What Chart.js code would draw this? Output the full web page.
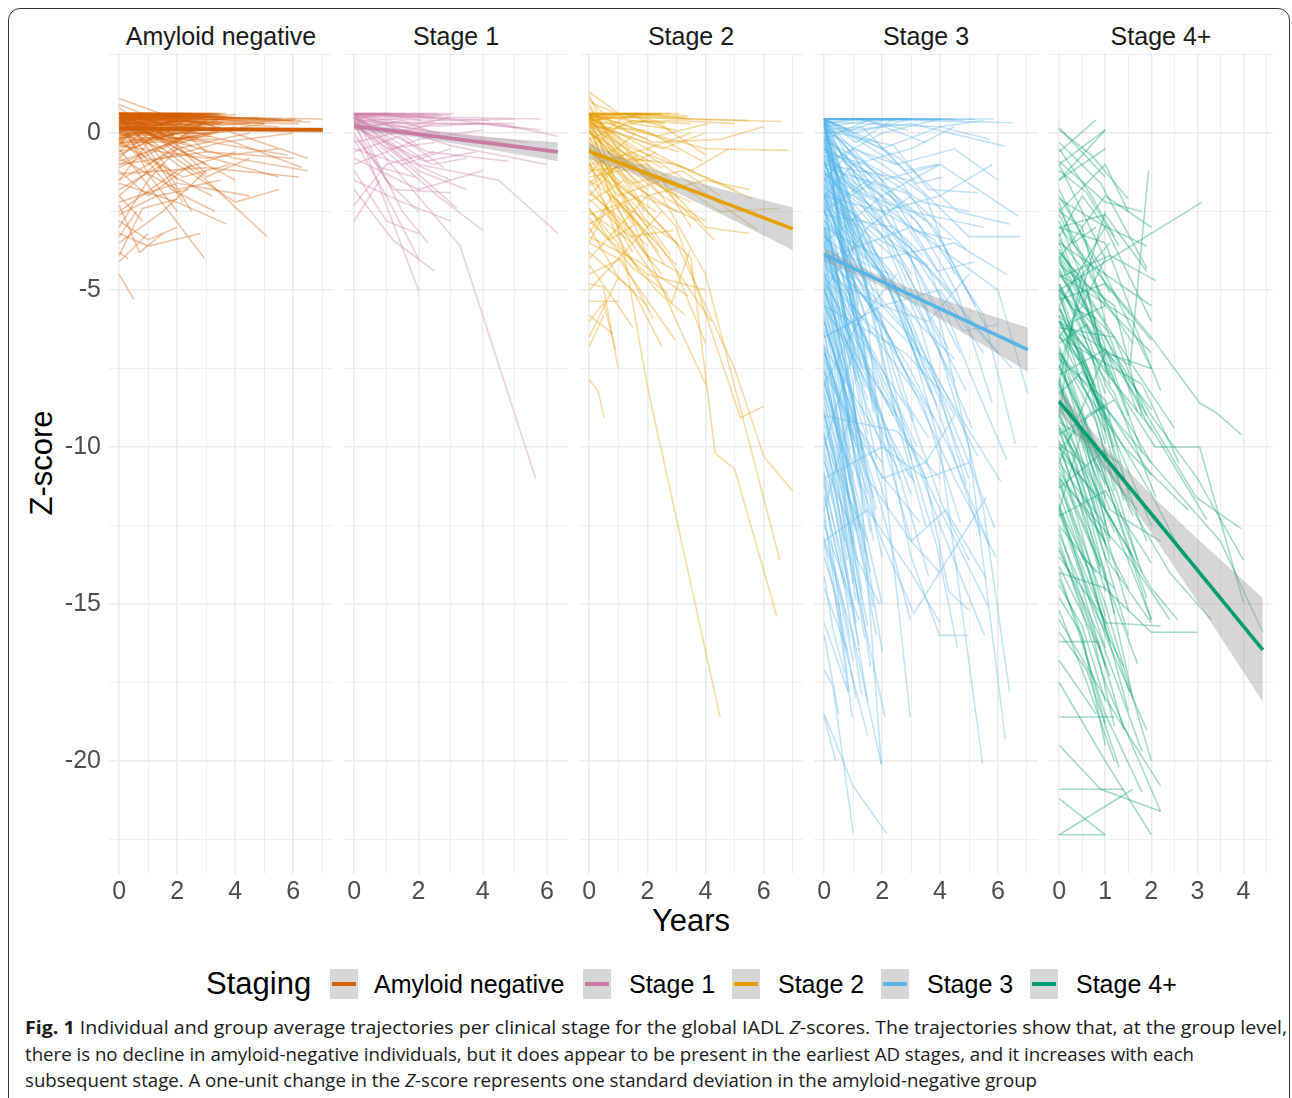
<!DOCTYPE html>
<html><head><meta charset="utf-8">
<script src="https://cdn.jsdelivr.net/npm/chart.js@4.4.1/dist/chart.umd.min.js"></script>
<style>
html,body{margin:0;padding:0;background:#fff;}
body{width:1292px;height:1098px;position:relative;overflow:hidden;font-family:'Liberation Sans',Arial,sans-serif;}
.frame{position:absolute;left:8px;top:8px;width:1282px;height:1110px;border:1.5px solid #333;border-radius:12px;box-sizing:border-box;}
.ptitle{position:absolute;top:20px;width:224px;text-align:center;font-size:25px;color:#1a1a1a;line-height:32px;white-space:nowrap;}
.xtitle{position:absolute;left:591px;top:903px;width:200px;text-align:center;font-size:31px;line-height:36px;color:#000;}
.ytitle{position:absolute;left:-58px;top:445px;width:200px;text-align:center;font-size:31px;line-height:36px;color:#000;transform:rotate(-90deg);transform-origin:50% 50%;}
.lgtitle{position:absolute;left:206px;top:966px;font-size:31px;line-height:36px;color:#000;white-space:nowrap;}
.lgkey{position:absolute;top:969px;width:28px;height:30px;background:#d6d6d6;}
.lgkey span{position:absolute;left:2px;top:13px;width:24px;height:4px;}
.lglab{position:absolute;top:969px;font-size:25px;line-height:30px;color:#000;white-space:nowrap;}
.cap{position:absolute;left:25px;font-family:'Open Sans',sans-serif;font-size:18px;line-height:24px;color:#1a1a1a;white-space:nowrap;transform-origin:0 50%;}
canvas{position:absolute;}
</style></head><body>
<div class="frame"></div>
<div id="titles"></div>
<div class="xtitle">Years</div>
<div class="ytitle">Z-score</div>
<div class="lgtitle">Staging</div>
<div id="legend"></div>
<div class="cap" id="cap1" style="top:1015px"><b>Fig. 1</b> Individual and group average trajectories per clinical stage for the global IADL <i>Z</i>-scores. The trajectories show that, at the group level,</div>
<div class="cap" id="cap2" style="top:1042px">there is no decline in amyloid-negative individuals, but it does appear to be present in the earliest AD stages, and it increases with each</div>
<div class="cap" id="cap3" style="top:1068px">subsequent stage. A one-unit change in the <i>Z</i>-score represents one standard deviation in the amyloid-negative group</div>
<script>
// ---------------- DATA ----------------
const panelNames = ['Amyloid negative', 'Stage 1', 'Stage 2', 'Stage 3', 'Stage 4+'];
const stageColors = ['#D55E00', '#CC79A7', '#E69F00', '#56B4E9', '#009E73'];
const xMin = [-0.351, -0.317, -0.35, -0.3515, -0.221];
const xMax = [7.371, 6.657, 7.35, 7.3815, 4.641];
const xGridValues = [
  [0,1,2,3,4,5,6,7], [0,1,2,3,4,5,6], [0,1,2,3,4,5,6,7], [0,1,2,3,4,5,6,7],
  [0,0.5,1,1.5,2,2.5,3,3.5,4,4.5]
];
const xTickLabels = [[0,2,4,6],[0,2,4,6],[0,2,4,6],[0,2,4,6],[0,1,2,3,4]];
const yGridValues = [2.5,0,-2.5,-5,-7.5,-10,-12.5,-15,-17.5,-20,-22.5];
const yTickLabels = [0,-5,-10,-15,-20];
const yMin = -23.6, yMax = 2.55;

// group mean lines (start/end)
const meanX = [[0,7.02],[0,6.34],[0,7.0],[0,7.03],[0,4.42]];
const meanZ = [[0.14,0.1],[0.22,-0.6],[-0.58,-3.05],[-3.87,-6.9],[-8.55,-16.46]];
// confidence ribbons
const ribbonX = [[0,3.5,7.02],[0,2,4,6.34],[0,1.5,3,5,7.0],[0,1.5,3,5,7.03],[0,1,2,3,4.42]];
const ribbonUpper = [[0.22,0.19,0.18],[0.34,0.06,-0.12,-0.3],[-0.33,-0.93,-1.39,-1.89,-2.37],[-3.65,-4.37,-4.96,-5.58,-6.2],[-8.2,-9.99,-11.53,-12.92,-14.81]];
const ribbonLower = [[0.06,0.05,0.02],[0.10,-0.14,-0.48,-0.9],[-0.83,-1.29,-1.89,-2.79,-3.73],[-4.09,-4.67,-5.36,-6.48,-7.6],[-8.9,-10.69,-12.73,-14.92,-18.11]];

// individual trajectories: [year, z, year, z, ...]
const trajAmyloidNeg = [
[0,0.62,3.7,0.62],[0,0.62,3.2,0.62],[0,0.62,2.5,0.62],[0,0.6,2,0.6],[0,0.62,1.2,0.62],
[0,0.55,3.5,0.55],[0,0.5,2.8,0.45],[0,0.6,3,0.5,6,0.4],[0,0.62,2,0.55,5.6,0.45],[0,0.4,3,0.5,7.0,0.45],
[0,0.3,2,0.35,6.2,0.3],[0,0.45,4.5,0.3],[0,0.2,3.5,0.3,5.5,0.2],[0,0.1,2.5,0.45],[0,-0.1,2,0.4,4,0.6],
[0,0.62,1,0.4,3,0.6],[0,1.1,1.5,0.6],[0,0.9,1,0.55,2,0.6],[0,0.8,0.6,0.4],[0,0,3,0],
[0,-0.3,3.5,0.2],[0,0.62,2,-0.2,4,0.1],[0,0.6,2,-0.5,4,-1.5],[0,0.5,3,-1],[0,0.3,1.5,-1.2,3.2,-2],
[0,0.6,1,-0.5,2.2,-2.2],[0,0.4,2.8,-0.7,5.5,-1.4],[0,0.2,4,-0.8,6.5,-1.2],[0,-0.5,1.8,-2.6,2.95,-4],[0,0.5,3,-1.5,5.1,-3.3],
[0,-1,2,-0.2,4,0.2],[0,-1.5,2,-0.5,4.5,0],[0,-2,1.5,-0.8,3.5,-0.3,6,0],[0,-2.5,2,-1.2,4,-0.6],[0,-1.2,1,-2,2.5,-1],
[0,-3,1,-1.5,2,-0.5],[0,-3.5,1.5,-2.5,3,-1.2],[0,-4.5,0.5,-5.3],[0,-3.8,0.3,-4],[0,-2.8,1,-3.4,2,-3],
[0,-0.8,2,-1.8,3.5,-1.5],[0,-1.8,1.5,-1,2.5,-2.5],[0,-0.4,3,-0.8,5.5,-0.5],[0,-0.2,1,-1,2,-0.4,3,-1.3],[0,-1,3,-0.6,6,-0.8],
[0,0.4,2,-1,4,-2.2,5.5,-1.8],[0,-2.2,2,-1.6,4.5,-2],[0,-1.5,1,-0.3,2,-1.5],[0,-3.2,1,-3.6,2.8,-3.2],[0,-4.1,1,-3.2],
[0,-3.9,0.8,-2.4,2,-2.1],[0,0.5,1,-1.3,2,-2.5],[0,0.6,1.5,-0.3,3,-1.4,4.5,-0.8],[0,0.62,1.2,0.1,2.5,-0.4],[0,0.3,1.5,-0.1,3,-0.3],
[0,0,1.5,-0.5,3,0.2],[0,-0.6,1,0.2,2,-0.3],[0,-0.9,2.5,-0.1,5,0.3],[0,0.62,3,0.3,6.5,-0.8],[0,0.1,2,0.6,4,0.5],
[0,-0.2,1.5,0.3,2.5,0.62],[0,-1.6,2,-2.2,3.7,-2.9],[0,-2,0.8,-2.8],[0,-1.3,3,-1.1,6.2,-1.4],[0,-0.7,2,0.2,3,-0.6],
[0,0.6,1.8,0.6],[0,0.58,3.3,0.58],[0,0.5,1.5,0.5],[0,0.45,2.2,0.55],[0,0.35,2.6,0.25],
[0,0.25,1.2,0.5,2.6,0.2],[0,0.15,1.7,0.62],[0,0.62,0.8,0.2,2,0.62],[0,0.62,1.5,0],[0,0.5,0.9,-0.3,1.8,0.3],
[0,0.62,2.4,0.62],[0,0.62,2.9,0.62],[0,0.55,1,0.62,3.6,0.5],[0,0.4,1.3,0.62,2.7,0.35],[0,0.05,1,0.3,2.3,0.1,3.4,0.4],
[0,-0.4,0.7,0.4,1.6,-0.1],[0,0.62,1.9,0.2,3.3,0.45,5,0.3],[0,-1.1,1.2,-0.6,2.6,0.1],[0,-2.6,1.3,-2,2.4,-1.8],[0,-0.3,2.2,-1.4,3.8,-1],
[0,-3.3,0.6,-2.5],[0,-2.3,0.7,-3.8,1.5,-3.2],[0,0.2,1.8,-1.8,3.3,-2.5],[0,0.6,4,-0.3,6.3,-1.1],[0,0.4,3.2,-0.3,5.8,-0.7],
[0,0.62,3.5,0.62],[0,0.62,2.2,0.62],[0,0.62,1.6,0.62],[0,0.62,0.9,0.62],[0,0.6,3.4,0.58],
[0,0.58,2.6,0.5],[0,0.52,3.1,0.6],[0,0.48,1.9,0.62],[0,0.44,3.3,0.52],[0,0.38,2.4,0.6],
[0,0.34,1.4,0.58,3,0.45],[0,0.28,2.1,0.5],[0,0.22,0.9,0.6,2.3,0.4],[0,0.18,3.6,0.35],[0,0.12,1.8,0.3,3.2,0.55],
[0,0.06,2.8,0.25],[0,0,1.2,0.45],[0,-0.05,2.5,0.2,3.7,0.5],[0,-0.12,1.5,0.1],[0,-0.18,3,0.35],
[0,-0.25,0.8,0.1,2.1,0.5],[0,-0.35,1.9,-0.05],[0,-0.45,2.7,0.15],[0,0.62,2.7,0.1],[0,0.62,1.3,-0.2,2.9,0.3],
[0,0.55,1.7,0.05,3.5,0.3],[0,0.45,1.1,-0.1,2.2,0.35],[0,0.35,2,-0.35,3.4,0.05],[0,0.62,3.6,0.25,6.1,0.45],[0,0.5,2.5,0.35,5.2,0.4],
[0,0.62,4.2,0.45],[0,0.2,2.4,0.4,4.8,0.5],[0,0.62,3.8,0.4,6.6,0.35],[0,-0.6,1.4,-0.2,3.2,-0.1],[0,-0.8,0.6,-0.3,1.7,0.4],
[0,0.62,3.4,0.61],[0,0.62,2,0.61],[0,0.62,2.8,0.6],[0,0.6,3.6,0.59],[0,0.6,1.4,0.6],
[0,0.57,2.3,0.56],[0,0.54,3.2,0.53],[0,0.5,3.7,0.51],[0,0.47,2.5,0.46],[0,0.43,3.4,0.44],
[0,0.4,1.8,0.41],[0,0.36,3,0.37],[0,0.32,2.2,0.31],[0,0.28,3.5,0.29],[0,0.24,1.6,0.25],
[0,0.2,2.9,0.21],[0,0.16,3.3,0.17],[0,0.12,2.1,0.11],[0,0.08,3.6,0.09],[0,0.04,2.6,0.05],
[0,-0.02,3.1,-0.01],[0,-0.08,1.9,-0.07],[0,-0.15,2.7,-0.14],[0,-0.22,3.4,-0.2],[0,-0.3,2.3,-0.28],
[0,0.62,1.5,0.3,3,0.62],[0,0.3,1,0.62,2.4,0],[0,0,1.1,0.5,2,-0.2,3,0.4],[0,0.5,1.6,-0.1,2.9,0.5],[0,-0.2,1.3,0.62,3.3,0.2],
[0,0.62,3.5,0.5,5.9,0.4],[0,0.5,3.2,0.45,6.3,0.4],[0,0.3,3.8,0.45,5.4,0.45]
];
const trajStage1 = [
[0,0.62,3.1,0.62],[0,0.6,2.2,0.6],[0,0.55,3,0.5,5.8,0.45],[0,0.5,1.5,0.5],[0,0.45,3,0.4,5,0.45],
[0,0.4,2,0.3,4.5,0.3,6.34,-0.1],[0,0.3,2.5,0.35],[0,0.6,1,0.62,2.5,0.5],[0,0.2,3,0,5.4,-0.3],[0,0.62,2,0.2,4,0.3,5.8,0.1],
[0,0.4,1,-0.5,2.5,-0.3],[0,0.5,1.5,-0.8,3,-1.5],[0,0.6,2,-1.2,3.5,-1.8],[0,0.3,1,-1.5,2,-2.5],[0,0,1.2,-1.8,3,-1.9],
[0,-0.5,1.5,-1,3,-0.5],[0,-1,2,-0.2,4,0.1],[0,-2.3,1,-1,2.5,-0.6],[0,-2.8,0.8,-1.5],[0,0.4,2,-5],
[0,0.6,1.5,-2.5,2.3,-3.5],[0,0.4,3.3,-3.6,5.65,-11],[0,0.5,2,-1,4.5,-1.5,6.34,-3.2],[0,-0.2,1,-2,2,-4],[0,-1.5,1.5,-2.2,3,-2.8],
[0,0.6,3,-0.4,6,-1],[0,0.1,1.5,0.4,3,-0.2],[0,-0.8,2,-1.8,4,-1.2],[0,0.62,0.8,0,1.8,-0.8],[0,0.45,4,-0.2,6.2,-0.6],
[0,-0.3,2.5,0.3,5,0.3],[0,0.5,1.2,-0.2,2.4,-1,3.5,-0.8],[0,-1.2,1,-2.8,2,-3.2],[0,0.25,1.2,-0.6,3.2,-2.4],[0,0.62,1.6,0.62],
[0,0.55,2.7,0.55],[0,0.35,1.8,0.5,4.2,0.4],[0,0.15,1,0.3,2,-0.4],[0,0.5,2.3,-0.6,4.8,-0.9],[0,-0.6,1.4,-0.1,2.8,-1.1],
[0,0.3,2.6,-2,4,-3.1],[0,0.62,2.6,0.62],[0,0.62,1.1,0.62],[0,0.58,3,0.58],[0,0.45,0.9,0.62,2.1,0.4],
[0,0.35,2.2,0.1],[0,0.55,1.6,0.2,3,0.5],[0,-0.1,0.8,-1.1,1.9,-1.4],[0,0.2,2.2,-0.9,3.8,-0.6],[0,0.62,2.9,0.45,5.1,0.15],
[0,-1.8,1.2,-3.4,2.5,-4.4]
];
const trajStage2 = [
[0,0.62,3.1,0.62],[0,0.6,2.5,0.6],[0,0.55,3,0.45,6.6,0.37],[0,0.5,2,0.5,5.5,0.4],[0,1.3,1.5,0.3,3,0.1],
[0,1.0,1,0.6,2.5,0.62],[0,0.45,1.5,0.5],[0,0.3,3,0.4,5,0.3],[0,0.62,2,0,4,-0.5,6.85,-0.55],[0,0.4,1,-0.5,2,-1.2],
[0,0.2,2,-1.5,3.5,-2.2],[0,0.6,1.2,-1,2.5,-2,4,-2.8],[0,0,1.5,-0.8,3,-1,5,-1.8],[0,-0.5,1,0.2,2,0.4],[0,-1,2,-0.5,3.5,0],
[0,-1.5,1.5,-2.5,3,-3.5],[0,-2,1,-1,2,-1.8],[0,-2.5,1.5,-3.5,2.5,-2.5],[0,-3,1,-4.6,2,-5.5],[0,0.5,1.17,-3.7,2,-8.07,4.5,-18.6],
[0,0.3,2,-2.5,3.5,-4,4.33,-10.2,5,-10.7,6.45,-15.4],[0,0.6,2.5,-2,4,-4.5,6.55,-13.6],[0,-0.5,3,-3.5,5,-7.5,6,-10.3,7,-11.4],[0,0.1,3,-3,5.2,-9.07,6,-8.7],[0,-7.86,0.3,-8.2,0.52,-9.07],
[0,-4.8,0.49,-4.9,1,-7.5],[0,-6.5,1,-4.6],[0,-6,0.5,-5.4,0.9,-6.9],[0,-5.36,1,-5.36],[0,-3.5,1,-4,2.96,-6.6],
[0,-1,2,-3.9,3,-4.4,4,-6.7],[0,-1.5,2.84,-5.4,3.47,-3.7],[0,-4,1,-3,2,-2],[0,-5,1.5,-3.5],[0,0.62,1,-1.8,2,-3],
[0,0.4,2,-1,4.5,-2.5,6.5,-2.4],[0,0.5,3,-1,5.6,-2.1],[0,-0.3,2,-2,4,-1.5,5.5,-1.8],[0,0.6,1.5,-0.5,3.5,-1.2,4.8,-0.5],[0,-0.8,1,-2,2.5,-1.5,3.5,-3],
[0,-1.2,2,-1,4,-3,5.5,-3.2],[0,-2.2,1.2,-1.5,3,-2.5],[0,0.3,1,0,2.5,-0.5,4,0],[0,-0.2,1.5,0.4,3.5,0.3],[0,-3.2,0.8,-2,2,-3.2,3,-4.2],
[0,-4.2,1,-5.5,1.5,-6.2],[0,-6.8,0.5,-5.8],[0,-2.8,2,-4.5,4,-5],[0,0.1,1.5,-2.8,3,-6,4,-8],[0,-0.5,2,-3,4.2,-6],
[0,0.5,0.8,-0.6,1.6,0],[0,1.2,0.5,0.2,1.4,-0.5],[0,0.9,1.3,-1,2.3,-0.6],[0,-1.8,1.2,-3,2.5,-4.5],[0,-0.6,1.5,-1.6,3.2,-1.2,4.5,-2],
[0,-1.3,0.8,-0.5,2.2,-1.5],[0,0.62,2.2,-0.3,4.5,-0.2,6,0.2],[0,-2.6,1.8,-2,3.8,-2.8],[0,-3.8,1.5,-5,2.5,-6.8],[0,0.62,0.7,-0.5,1.5,-1.2],
[0,0.2,0.8,-1.5,1.8,-2.2],[0,-0.1,1,-2.2,2.2,-3.4],[0,0.45,1.4,-2.5,2.6,-4.2],[0,-0.9,0.9,-3.2,1.7,-4.4],[0,0.55,2.4,0.3,4,-0.7],
[0,0.35,1.2,0.62,2.8,0.1],[0,-1.6,1.3,-0.6,2.7,-1.9],[0,-2.4,0.7,-3.4,1.6,-2.9],[0,-3.5,0.6,-2.4,1.5,-3.8],
[0,0.62,2.8,0.62],[0,0.62,1.8,0.62],[0,0.6,3.3,0.5],[0,0.5,1.2,0.62,2.6,0.3],[0,0.4,2.2,0.6],
[0,0.62,1.4,0.2,2.9,-0.3],[0,0.3,1.6,-0.2,3.1,-0.6],[0,0.1,0.9,-0.8,2.1,-0.9],[0,0.62,1.1,-0.4,2.4,-1.5],[0,-0.3,0.7,-1.2,1.7,-0.7],
[0,-0.7,1.3,-1.9,2.3,-2.5],[0,-1.1,0.6,-1.7,1.5,-2.9],[0,-1.4,1.6,-1.1,3.1,-2.1],[0,-1.9,0.9,-2.6,2,-3.6],[0,-2.1,1.4,-3.3,2.9,-3.1],
[0,-0.2,2.6,-1.8,4.3,-3.4],[0,0.5,3.5,-1.6,5.8,-3.1],[0,0.2,1.9,0.1,3.9,-0.9],[0,1.1,0.9,0.2,2,-0.2],[0,0.8,0.6,0.1,1.2,0.5],
[0,-2.9,1.1,-2.3,2.4,-3.8],[0,-3.3,1.7,-4.1,3.4,-5.2],[0,-4.5,1.1,-4,2.2,-5.9],[0,-5.8,0.8,-6.4],[0,-2.4,2.3,-5,3.3,-5.8],
[0,0.62,2.1,0.62],[0,0.62,3.4,0.55],[0,0.55,1.6,0.62,3.6,0.45],[0,0.45,2.3,-0.1,4.1,0.3],[0,0.25,1.1,-0.4,2.5,-1.1],
[0,0,1.8,-1.3,3.3,-1.8],[0,-0.4,1.2,-2.8,2.1,-4.1],[0,-1,1.6,-2.3,2.8,-3.9],[0,-1.7,0.9,-1.1,1.9,-2.5],[0,-2.7,1.5,-4.3,2.7,-5.1]
];
const trajStage3 = [
[0,0.45,5.85,0.45],[0,0.45,4.5,0.45],[0,0.45,3,0.45],[0,0.45,2,0.45],[0,0.4,3,0.4,6.5,0.33],
[0,0.35,4,0.2,5.5,0.4],[0,0.2,2,0.45,4.8,0.4],[0,0.45,1,0,3,0.45],[0,0,3,0.3,6.25,-0.42],[0,0.3,2,-0.5,4,0.2,5.7,-0.2],
[0,-0.2,1.5,0.4,3.5,-0.3],[0,0.45,2.5,-1,4.5,-0.5,6,-1.5],[0,-0.5,2,-1.5,4,-1,6.7,-2.65],[0,-1,3,-1.5,5,-3.3,6.76,-3.3],[0,-1.5,1,-0.5,2.5,-1],
[0,0.2,1.5,-2,3,-2.5,5.5,-3],[0,-2,2,-2.5,4,-2,5.8,-1],[0,-0.8,3,-3,6,-5,7.03,-8.3],[0,-2.5,1.5,-1.5,3.5,-2.8],[0,-3,2,-4,4.5,-3.5,6.3,-4.5],
[0,0.45,1,-1.5,2,-3,3,-4.5],[0,0.3,0.8,-2,1.5,-4],[0,-0.3,1,-2.5,2.2,-5],[0,0.1,2,-1,3.5,-2,4.5,-4.5],[0,-1.2,1,-3,2,-6,3,-8],
[0,-1.8,2,-4.5,4,-8.5,5,-11],[0,-2.2,1,-4,2.5,-7],[0,-3.5,1.5,-5,3,-6.5,4.5,-9],[0,-4,1,-6,2,-9,3,-11.5],[0,-4.5,2,-5.5,4,-5,5.5,-7],
[0,-5,1,-7.5,2,-10],[0,-5.5,1.5,-8,3,-13,4,-14],[0,-6,0.8,-8.5,1.8,-12],[0,-6.5,1,-6,2,-9.5,3,-11],[0,-7,1.2,-10,2,-13.5],
[0,-7.5,0.5,-9.5,1,-12.5],[0,-8,1,-11,2,-15],[0,-4.5,2,-9,3,-13.5,3.98,-16,4.98,-16],[0,-9,1,-12,1.8,-16],[0,-9.5,0.7,-13],
[0,-10,1,-14,2.1,-18.6],[0,-11,0.96,-18.6],[0,-12,0.83,-17.8],[0,-13,1,-16,1.97,-20.1],[0,-17.1,0.3,-17.6,1,-22.3],
[0,-18.5,1,-20.8,2.15,-22.3],[0,-15.6,0.83,-17.8],[0,0,2,-2,4,-6,5.5,-12,6.4,-17.8],[0,-0.5,3,-4,5,-10,6.25,-19.3],[0,-1,2.5,-5,4,-10,5.47,-20.1],
[0,-2,1.5,-6,2.97,-18.6],[0,-3,1,-8,1.97,-20.1],[0,-1.5,2,-4.5,4,-8,6.1,-11.1],[0,-0.5,3,-6,5,-10.5,5.9,-12.6],[0,-2.5,2.5,-7,4.5,-11,5.93,-13.5],
[0,-3,2,-8,4,-12,5.68,-15.1],[0,-5,3,-10,4,-12.5,5.53,-16],[0,-6,2,-12,2.97,-15.5],[0,-8,2,-13,3.1,-15.3,5.6,-11.6],[0,-7,1.5,-11,3,-13,4.2,-12,5.6,-14.2],
[0,-6,1,-9,2,-11,3.5,-10.5,4.5,-9],[0,-4,2,-7.5,3.5,-11,4.3,-14.6,5,-15.2],[0,0.45,0.5,-1,1.2,-3],[0,0.4,1,-3.5,1.8,-6],[0,0.3,1.5,-5,2.5,-9],
[0,0.1,0.7,-1.5,1.5,-2],[0,-0.1,0.5,-2.5,1.2,-5.5],[0,-0.4,1.2,-4,2.2,-8,3.2,-10],[0,-0.7,0.9,-2,1.8,-1.5],[0,-1.1,0.6,-3,1.4,-4.5],
[0,-1.4,1.5,-3.5,2.8,-5],[0,-1.7,0.8,-4.5,1.6,-7],[0,-2.1,1.1,-3,2,-5.5],[0,-2.4,0.5,-5,1.3,-9],[0,-2.8,1,-4,2.3,-4.5,3.3,-7],
[0,-3.2,0.7,-6.5,1.5,-8.5],[0,-3.6,1.3,-7,2.6,-11],[0,-3.9,0.9,-5.2,1.9,-8],[0,-4.3,0.6,-7,1.4,-10.5],[0,-4.7,1.2,-6.8,2.4,-9],
[0,-5.2,0.8,-8,1.7,-13],[0,-5.7,1.4,-9.5,2.2,-12],[0,-6.2,0.5,-7.5,1.1,-10],[0,-6.7,1,-11.5,1.6,-14],[0,-7.2,0.7,-9,1.5,-11.5],
[0,-7.8,1.3,-12.5,2,-16.5],[0,-8.3,0.8,-10.5],[0,-8.8,1.1,-13.5,1.9,-15],[0,-9.3,0.6,-11,1.2,-15],[0,-9.8,1.5,-13],
[0,-10.5,0.9,-12.5,1.6,-17],[0,-11.5,0.7,-14.5],[0,-12.5,1.2,-15.5],[0,-13.5,0.5,-15,1.1,-18],[0,-14.5,0.8,-16.5],
[0,-16,0.5,-18.5],[0,-18.6,0.4,-20],[0,-5,1.5,-3,3,-2],[0,-8,1.2,-6,2.5,-4.5],[0,-12,0.9,-9,2,-10.5],
[0,-10,1,-7],[0,-6.5,2,-5.5,3.6,-6,5,-4.5],[0,-3.5,2,-2,4,-1],[0,-2,1,-1,3,-0.5,4.5,0.2],[0,-1,2,0,4,0.45],
[0,-4,3,-3,5,-6,6.5,-7.5],[0,-9,2.5,-9.5,4,-11],[0,-11,2,-10,3.5,-11,5,-10.5],[0,-13,1.5,-12,3,-14,4,-15.6],[0,-1.3,1.8,-2.2,3.3,-4.5,4.7,-7],
[0,-0.2,2.2,-1.8,3.8,-3,5.2,-5.5],[0,-2.6,2.4,-3,4.2,-5,6,-7],[0,-0.6,1.4,-1,3.4,-2.2,5,-2.5],[0,0.45,2.6,-0.8,4.6,-2.5,6.4,-2.9],[0,0.1,1.3,0.2,2.8,-1.2,3.9,-1],
[0,-3.3,1.6,-4.5,3.2,-5.5],[0,-5.5,2.8,-7,4,-8.2],[0,0.45,0.6,-0.4,1.3,-1.8],[0,0.35,1.1,-0.8,2.1,-2.6],[0,0.2,0.9,-2.7,1.9,-4.2],
[0,-0.9,0.4,-1.8,1,-3.8],[0,-1.9,0.5,-3.3,1.1,-6.3],[0,-2.9,0.4,-4.1,0.9,-7.4],[0,-4.9,0.4,-6.1,0.9,-9.2],[0,-6.9,0.5,-8.4,0.9,-11.2],
[0,-8.6,0.4,-9.9,1,-13.1],[0,-10.8,0.4,-12.1,0.8,-14.2],[0,-12.9,0.5,-14.3,0.9,-16.1],[0,-14.1,0.3,-15.8,0.7,-17.2],[0,-3.8,1.7,-5.6,2.7,-8.4,3.6,-9.7],
[0,0.45,0.4,-0.6,0.9,-2.1],[0,0.45,0.3,-1.2,0.8,-3.2],[0,0.45,0.6,-2.4,1.1,-4.9],[0,0.4,0.5,-3.1,1.3,-6.5],[0,0.3,0.7,-4.2,1.6,-7.8],
[0,0.2,0.4,-2.2,1,-5.8],[0,0,0.6,-1.9,1.4,-3.7],[0,-0.3,0.3,-1.5,0.9,-4.6],[0,-0.6,0.5,-2.8,1.2,-6.9],[0,-0.9,0.8,-3.4,1.7,-8.9],
[0,-1.2,0.4,-2.9,1,-5.2],[0,-1.6,0.6,-3.8,1.5,-7.2],[0,-2,0.3,-3.9,0.9,-6.7],[0,-2.3,0.7,-5.6,1.4,-8.1],[0,-2.7,0.5,-4.6,1.1,-7.9],
[0,-3.1,0.9,-6.3,1.8,-10.4],[0,-3.4,0.4,-5.4,1,-8.4],[0,-3.8,0.6,-6.9,1.3,-10.1],[0,-4.1,0.8,-7.7,1.7,-11.6],[0,-4.6,0.3,-6.1,0.9,-9.6],
[0,-5,0.5,-7.2,1.2,-11.3],[0,-5.4,0.8,-9.1,1.6,-12.7],[0,-5.9,0.4,-7.8,1,-10.9],[0,-6.3,0.7,-9.6,1.4,-13.4],[0,-6.8,0.3,-8.1,0.9,-11.8],
[0,-7.3,0.6,-10.3,1.3,-14.6],[0,-7.9,0.4,-9.4,1,-13.2],[0,-8.4,0.7,-11.9,1.5,-15.7],[0,-9,0.5,-11.4,1.1,-14.9],[0,-9.6,0.3,-10.8,0.8,-13.6],
[0,-10.2,0.6,-13.1,1.2,-16.3],[0,-10.9,0.4,-12.8,0.9,-15.1],[0,-11.6,0.7,-14.4,1.3,-17.9],[0,-12.3,0.5,-14.6,1,-16.8],[0,-13.1,0.8,-16.7,1.5,-19.2],
[0,-0.1,1.1,-1.1,2.3,-2.9,3.4,-3.9],[0,-0.4,1.7,-2.7,2.9,-3.6,4.4,-5.1],[0,-1.7,1.9,-3.4,3.6,-4.2],[0,-2.2,1.2,-4.4,2.7,-6.1,3.9,-8.7],[0,-3.2,2.1,-6.3,3.1,-9.2],
[0,0.45,1.8,-0.3,3.2,-1.6,4.1,-1.4],[0,0.1,2.4,-0.4,3.6,-1.8,5.3,-1.9],[0,-1.1,2.8,-1.9,4.9,-3.7],[0,-4.6,2.3,-6.8,3.8,-9.1],[0,-7.6,1.9,-10.8,3.3,-12.4],
[0,0.45,1.4,0.45],[0,0.45,2.5,0.4],[0,0.45,3.7,0.45],[0,0.45,0.9,0.1,2.2,0.45],[0,0.3,1.2,0.45,2.9,0.1],
[0,0.45,1.8,0.45],[0,0.45,2.8,0.44],[0,0.45,4.1,0.45],[0,0.45,5.2,0.44],[0,0.45,1.1,-0.3,2.4,0.45],
[0,0.45,0.7,-0.9,1.6,-1.8],[0,0.45,1.3,-1.1,2.7,-2.4],[0,0.45,2.1,-1.6,3.6,-3.3],[0,0.45,0.5,-1.8,1,-3.9],[0,0.45,0.8,-2.9,1.6,-5.3],
[0,-0.2,0.7,-2.1,1.5,-4.9],[0,-0.8,0.4,-2.2,1.1,-5.6],[0,-1.4,0.8,-4.1,1.6,-6.4],[0,-1.9,0.6,-4.4,1.3,-7.5],[0,-2.5,0.9,-5.3,1.8,-8.8],
[0,-3,0.4,-4.4,1.2,-7.8],[0,-3.5,0.8,-6.2,1.5,-9.6],[0,-4,0.5,-5.9,1.1,-9.1],[0,-4.4,0.9,-8.1,1.8,-12.4],[0,-4.8,0.4,-6.4,1,-9.8],
[0,-5.3,0.7,-8.4,1.4,-12.1],[0,-5.8,0.3,-6.9,0.9,-10.1],[0,-6.4,0.6,-9.1,1.2,-12.6],[0,-7,0.9,-11.2,1.7,-15.1],[0,-7.6,0.5,-9.8,1.1,-12.7],
[0,-8.2,0.8,-11.4,1.5,-14.2],[0,-8.9,0.4,-10.6,1,-14.3],[0,-9.7,0.7,-12.2,1.4,-16.1],[0,-10.4,0.5,-12.3,1.1,-15.6],[0,-11.2,0.8,-14.2,1.5,-18.1],
[0,-1,1.5,-3.2,2.6,-5.8,3.7,-8.3],[0,-1.6,2.2,-4.9,3.4,-7.7],[0,-2.4,1.9,-6.1,3,-10.4],[0,-0.5,2.1,-3.4,3.3,-6.1,4.5,-7.2],[0,-3.6,2.3,-8.4,3.5,-12.5],
[0,0.2,1.9,-1.4,3.1,-3.1,4.4,-3.4],[0,-0.3,2.5,-2.5,3.9,-4.4,5.2,-4.1],[0,-2,2.7,-4.2,4.3,-6.9],[0,-5.1,2.1,-9.3,3.1,-11.1],[0,-1.3,3,-3.7,4.8,-6.3,6,-6.1],
[0,-1.2,2.3,-3.6,3.8,-6.6,5.1,-9.4],[0,-2.1,2.6,-5.2,4.1,-9.3,5.4,-12.8],[0,-0.7,3.2,-2.8,4.6,-5.1,5.8,-8.6],[0,-3.3,2.9,-7.4,4.4,-10.2,5.7,-13.1],[0,-4.2,3.4,-8.6,4.7,-12.4],
[0,-1.9,3.6,-4.3,5.1,-7.8,6.3,-10.4],[0,-0.2,2.7,-1.6,4.2,-3.7,5.6,-6.2],[0,-5.6,2.6,-9.1,3.9,-13.2,4.6,-16.4],[0,-2.8,3.1,-5.4,4.5,-7.9],[0,-0.9,1.9,-2.6,3.4,-5.5,4.9,-8.2],
[0,-3.9,2.4,-6.2,3.7,-7.4,5.3,-10.3],[0,-6.8,2.5,-10.6,3.6,-14.1],[0,-1.5,3.8,-3.4,5.5,-5.8,6.6,-9.9],[0,-2.3,3.3,-6.1,4.9,-11.2],[0,-4.8,2.9,-8.8,4.1,-11.9,5,-13.6]
];
const trajStage4 = [
[0,0.17,1,-1.4],[0,-0.6,0.8,0.42],[0,-1,1,0.1],[0,-1.5,1,-0.5],[0,-0.9,1,-2.2,1.8,-2.5],
[0,-6,1.54,-7.4,1.94,-1.2],[0,-5,0.45,-4.6,3.1,-2.2],[0,-3.8,1,-5.5,2,-7],[0,-2,1,-4.5,2,-7.5],[0,-2.5,0.5,-3,1,-6],
[0,-3,1,-3.5,1.6,-5.8],[0,-3.5,0.7,-6,1.5,-9],[0,-4,1,-8,2,-10.5],[0,-4.5,0.5,-5.5,1.2,-6.5],[0,-5,1,-6.5,2,-9.5],
[0,-5.5,0.8,-8.5,1.9,-13],[0,-6,1,-9,2,-12.5],[0,-6.5,0.6,-7.5,1.2,-10],[0,-7,1,-11,2,-15.5],[0,-7.5,0.5,-9,1,-10.5],
[0,-8,1.1,-12,2.2,-13],[0,-8.5,0.8,-10,1.8,-14],[0,-9,1,-13.5,2,-15.6],[0,-9.5,0.5,-11.5,1,-12.5],[0,-10,1,-14,1.6,-18],
[0,-10.5,0.7,-12,1.5,-16],[0,-11,1,-15,2,-20],[0,-11.5,0.5,-13.5,1.2,-14.5],[0,-12,1,-16,1.9,-19],[0,-12.5,0.8,-14],
[0,-13,1,-17.5,2.2,-21.6],[0,-14,1,-18.5,1.8,-21],[0,-14.8,0.5,-16,1,-19.5],[0,-16.2,0.85,-16.2,1.4,-19],[0,-18.6,1.2,-18.6],
[0,-20.9,1.4,-20.9],[0,-22.35,1,-22.35],[0,-21.2,1,-22.35],[0,-22.35,1.6,-20.9],[0,-19.5,0.9,-20.9,2.2,-21.6],
[0,-17.5,1,-20,2,-22.35],[0,-15.5,1,-18,2.2,-20.8],[0,-13.5,1,-15.5,1.53,-17.8],[0,-10,1,-12,2,-14.5,2.57,-15.5],[0,-11,1.5,-13.5,2.4,-15.5],
[0,-9,1.2,-12.5,2,-15.5],[0,-12,1,-15.6,2.2,-15.7],[0,-14,1,-14.5,2,-15.9,3,-15.9],[0,-6,1,-7.5,2.08,-10,3.05,-10,4,-14.95],[0,-5,1.5,-8,2.97,-11.6,3.95,-12.6],
[0,-4,2,-9,3,-11,4,-13.6],[0,-7,2,-10.5,3.5,-13,4.42,-15.9],[0,-3,2,-6.5,3.05,-8.6,3.4,-8.9,3.95,-9.6],[0,-6.5,0.5,-5.5,1,-4],[0,-9,0.3,-6,1,-5.5],
[0,-8,0.5,-4.5,1.1,-3.5],[0,-7.5,1,-2.5],[0,-10.5,1,-7,2,-7.5],[0,-12,0.6,-9,1.2,-8.5],[0,-5.5,1,-3,2,-6],
[0,-2.5,1,-1,1.5,-2.5],[0,-1.5,1,0.1],[0,-4,1,-2,2,-3],[0,-3.3,0.5,-2,1,-3],[0,-5,1,-9,2,-11.5,2.7,-13.5],
[0,-8.5,1.2,-11,2.4,-14,3.3,-15.5],[0,-6.5,1.8,-8,2.6,-10.5],[0,-4.5,1.6,-6,2.2,-8.2],[0,-3.5,1.3,-4.8,2,-5.5],[0,-7,1.4,-10,2.8,-12],
[0,-2.8,0.6,-5,1.1,-8],[0,-3.8,0.4,-4.5,0.9,-7],[0,-4.8,0.7,-7,1.3,-11],[0,-5.8,0.5,-8,1,-9.5],[0,-6.8,0.9,-10.5,1.7,-12],
[0,-7.8,0.6,-10,1.1,-13],[0,-8.8,0.8,-12.5,1.5,-14.5],[0,-9.8,0.4,-11,0.9,-14],[0,-10.8,1,-13],[0,-11.8,0.7,-15,1.4,-17],
[0,-12.8,0.5,-14.5,1,-17],[0,-13.8,0.9,-16.5],[0,-15.2,0.6,-17.5,1.2,-20],[0,-16.8,0.8,-18.5],[0,-1,0.5,-2.5,1,-4],
[0,-0.5,0.7,-2,1.2,-3.3],[0,-2.2,0.3,-3.5,0.8,-3],[0,-6.2,1.2,-6.5,1.9,-9],[0,-7.2,1,-8.5,1.5,-11.5],[0,-9.2,1.3,-10.5],
[0,-10.2,0.8,-11.5,1.6,-13.5],[0,-4.2,1.2,-5.5,1.8,-9],[0,-6.3,0.4,-7.1,0.9,-8.8],[0,-7.4,0.3,-8.3,0.8,-10.2],[0,-8.2,0.5,-9.6,1.1,-11.4],
[0,-9.4,0.4,-10.3,0.8,-12.1],[0,-10.9,0.3,-11.8,0.9,-13.8],[0,-5.2,0.3,-6.4,0.8,-8.1],[0,-4.4,0.6,-6.2,1.2,-7.9],[0,-11.3,1,-10.1,1.6,-12.2],
[0,-1.8,0.6,-3.6,1.1,-5.1],[0,-2.6,0.8,-4.9,1.6,-6.7],[0,-3.4,0.5,-4.3,1,-7.4],[0,-4.1,0.9,-6.4,1.8,-10.2],[0,-4.9,0.4,-5.9,1,-8.3],
[0,-5.6,0.7,-7.9,1.4,-11.7],[0,-6.1,0.5,-7.1,1,-9.9],[0,-6.9,0.8,-9.2,1.7,-13.6],[0,-7.4,0.4,-8.8,1,-11.6],[0,-8.1,0.9,-10.6,1.9,-14.8],
[0,-8.7,0.5,-9.9,1.1,-12.9],[0,-9.3,0.7,-11.2,1.5,-15.2],[0,-9.9,0.5,-12.1,1,-14.6],[0,-10.6,0.8,-13.4,1.7,-16.9],[0,-11.2,0.4,-12.7,1,-15.8],
[0,-11.9,0.7,-14.1,1.5,-18.4],[0,-12.6,0.5,-14.9,1.1,-17.3],[0,-13.3,0.9,-16.1,1.8,-19.7],[0,-14.4,0.5,-15.7,1,-18.1],[0,-15.9,0.6,-17.1,1.3,-20.2],
[0,-3,1,-2.6,1.9,-4.4],[0,-5.3,1,-4.8,2,-6.6],[0,-7.7,1,-6.9,2,-8.8],[0,-9.6,1,-8.7,2,-10.9],[0,-12.2,1,-11.4,2,-13.7],
[0,-6.7,0.6,-6.1,1.2,-7.3],[0,-8.3,0.5,-7.6,1.1,-9.2],[0,-10.1,0.4,-9.4,1,-11.2],[0,-2.1,0.9,-2.9,1.9,-3.6],[0,-4.6,1.1,-3.9,2.1,-4.7],
[0,-1.2,0.6,-1.9,1.3,-3.6],[0,0.1,0.7,-0.7,1.5,-2.1],[0,-0.3,0.9,-1.6,1.9,-4.3],[0,-5.8,2,-9.4,3.2,-12.3],[0,-3.7,1.5,-7.2,2.5,-9.4],
[0,-2.4,0.5,-3.9,1,-5.4],[0,-3.2,0.4,-4.9,0.9,-6.6],[0,-4.3,0.6,-6.1,1.1,-7.7],[0,-5.1,0.5,-7.4,1,-9.1],[0,-6.4,0.7,-8.6,1.2,-11.4],
[0,-7.1,0.5,-9.6,1,-11.9],[0,-7.9,0.6,-10.9,1.1,-13.6],[0,-8.6,0.4,-10.2,1,-13.1],[0,-9.4,0.7,-12.4,1.2,-15.3],[0,-10.3,0.5,-12.8,1,-15.4],
[0,-11.1,0.6,-13.8,1.1,-16.2],[0,-12.1,0.5,-14.2,1,-16.4],[0,-13.2,0.7,-15.8,1.2,-18.9],[0,-14.2,0.4,-15.6,1,-18.8],[0,-4.8,0.3,-5.6,0.8,-5.9],
[0,-6,0.4,-6.9,1,-8.8],[0,-8,0.3,-8.9,0.9,-10.8],[0,-9.9,0.6,-10.6,1.2,-12.7],[0,-3.9,1,-6.1,1.7,-8.9],[0,-5.6,1.2,-8.3,2.1,-11.6]
];
const trajectories = [trajAmyloidNeg, trajStage1, trajStage2, trajStage3, trajStage4];

// ---------------- LAYOUT ----------------
const panelLeft = [109, 344, 579, 814, 1049];
const panelW = 224, plotTop = 53, plotH = 821, xAxisH = 45, yAxisW = 109;
const FONT = "'Liberation Sans', Arial, sans-serif";

function rgba(hex, a) {
  const n = parseInt(hex.slice(1), 16);
  return `rgba(${(n >> 16) & 255},${(n >> 8) & 255},${n & 255},${a})`;
}
function toPts(xs, ys) { return xs.map((x, k) => ({x: x, y: ys[k]})); }
function flatToPts(f) { const p = []; for (let k = 0; k < f.length; k += 2) p.push({x: f[k], y: f[k+1]}); return p; }
function zeroPad(s) { s.paddingTop = 0; s.paddingBottom = 0; s.paddingLeft = 0; s.paddingRight = 0; }

const titles = document.getElementById('titles');
const legend = document.getElementById('legend');
const keyLefts = [330, 583, 732, 881, 1030];
const labLefts = [374, 629, 778, 927, 1076];

panelNames.forEach((name, i) => {
  const t = document.createElement('div');
  t.className = 'ptitle'; t.style.left = panelLeft[i] + 'px'; t.textContent = name;
  titles.appendChild(t);
  const k = document.createElement('div');
  k.className = 'lgkey'; k.style.left = keyLefts[i] + 'px';
  k.innerHTML = `<span style="background:${stageColors[i]}"></span>`;
  legend.appendChild(k);
  const l = document.createElement('div');
  l.className = 'lglab'; l.style.left = labLefts[i] + 'px'; l.textContent = name;
  legend.appendChild(l);
});

panelNames.forEach((name, i) => {
  const first = i === 0;
  const w = first ? yAxisW + panelW : panelW;
  const left = first ? panelLeft[0] - yAxisW : panelLeft[i];
  const cv = document.createElement('canvas');
  cv.width = w; cv.height = plotH + xAxisH;
  cv.style.left = left + 'px'; cv.style.top = plotTop + 'px';
  cv.style.width = w + 'px'; cv.style.height = (plotH + xAxisH) + 'px';
  document.body.appendChild(cv);

  const col = stageColors[i];
  const datasets = [];
  datasets.push({data: toPts(meanX[i], meanZ[i]), showLine: true, borderColor: col, borderWidth: 3.6, pointRadius: 0, fill: false, order: 0});
  datasets.push({data: toPts(ribbonX[i], ribbonLower[i]), showLine: true, borderColor: 'rgba(0,0,0,0)', borderWidth: 0, pointRadius: 0, fill: false, order: 1});
  datasets.push({data: toPts(ribbonX[i], ribbonUpper[i]), showLine: true, borderColor: 'rgba(0,0,0,0)', borderWidth: 0, pointRadius: 0, fill: '-1', backgroundColor: 'rgba(153,153,153,0.4)', order: 1});
  trajectories[i].forEach(tr => {
    datasets.push({data: flatToPts(tr), showLine: true, borderColor: rgba(col, 0.36), borderWidth: 1.6, pointRadius: 0, fill: false, order: 2});
  });

  new Chart(cv, {
    type: 'scatter',
    data: {datasets: datasets},
    options: {
      responsive: false, animation: false, events: [],
      layout: {padding: 0, autoPadding: false},
      plugins: {legend: {display: false}, tooltip: {enabled: false}},
      elements: {point: {radius: 0}, line: {tension: 0}},
      scales: {
        x: {
          type: 'linear', min: xMin[i], max: xMax[i],
          afterBuildTicks: s => { s.ticks = xGridValues[i].map(v => ({value: v})); },
          afterFit: s => { s.height = xAxisH; zeroPad(s); },
          border: {display: false},
          grid: {color: '#EBEBEB', drawTicks: false,
                 lineWidth: c => (c.tick && xTickLabels[i].includes(c.tick.value)) ? 1.6 : 0.8},
          ticks: {autoSkip: false, maxRotation: 0, minRotation: 0, padding: 3, color: '#4D4D4D',
                  font: {family: FONT, size: 25},
                  callback: v => xTickLabels[i].includes(v) ? String(v) : ''}
        },
        y: {
          type: 'linear', min: yMin, max: yMax,
          afterBuildTicks: s => { s.ticks = yGridValues.map(v => ({value: v})); },
          afterFit: s => { s.width = first ? yAxisW : 0; zeroPad(s); },
          border: {display: false},
          grid: {color: '#EBEBEB', drawTicks: false,
                 lineWidth: c => (c.tick && yTickLabels.includes(c.tick.value)) ? 1.6 : 0.8},
          ticks: {display: first, autoSkip: false, padding: 8, color: '#4D4D4D',
                  font: {family: FONT, size: 25},
                  callback: v => yTickLabels.includes(v) ? String(v) : ''}
        }
      }
    }
  });
});

// fit caption lines to their measured widths in the reference
const capTargets = {cap1: 1262, cap2: 1169, cap3: 1012};
function fitCaps() {
  Object.keys(capTargets).forEach(id => {
    const el = document.getElementById(id);
    el.style.transform = 'none';
    const w = el.getBoundingClientRect().width;
    el.style.transform = `scaleX(${capTargets[id] / w})`;
  });
}
fitCaps();
if (document.fonts && document.fonts.ready) document.fonts.ready.then(fitCaps);
</script>
</body></html>
